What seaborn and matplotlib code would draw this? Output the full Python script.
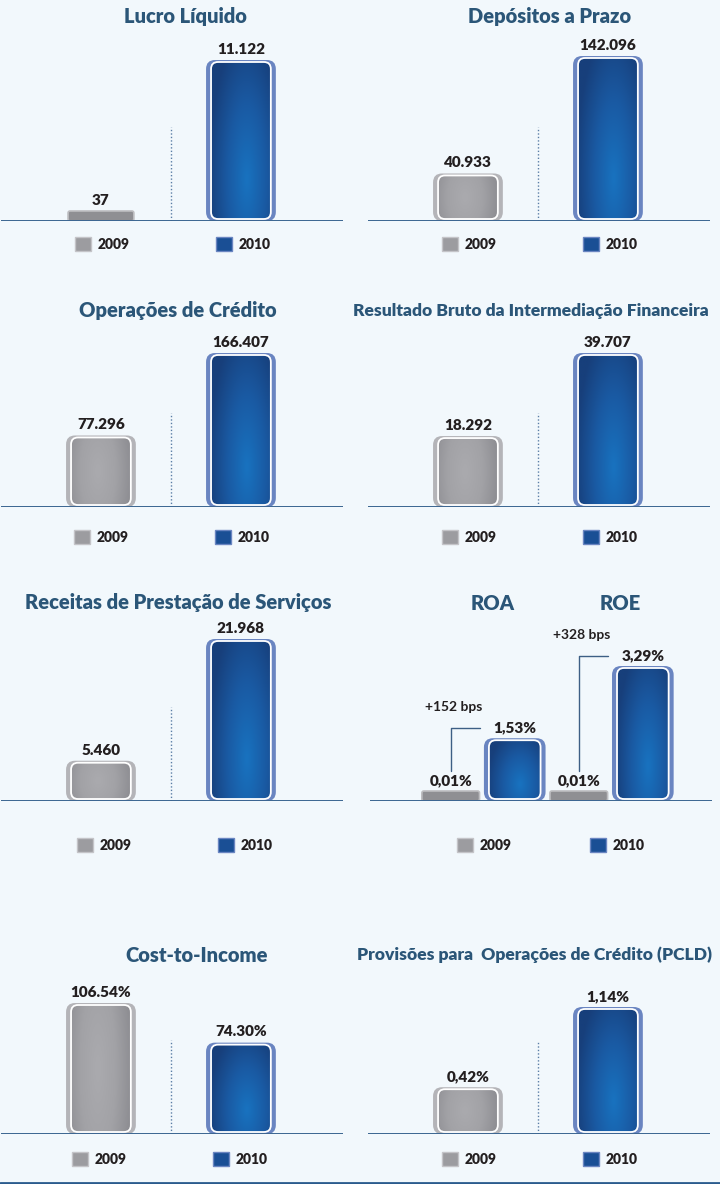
import numpy as np
import pandas as pd
import seaborn as sns
import matplotlib.pyplot as plt
from matplotlib.patches import FancyBboxPatch, Patch
from matplotlib.colors import LinearSegmentedColormap
from matplotlib.lines import Line2D
import matplotlib.transforms as mtransforms

# data (R$ milhões / %)
years = ["2009", "2010"]
lucro_liquido = [37, 11122]
depositos_prazo = [40933, 142096]
operacoes_credito = [77296, 166407]
resultado_bruto = [18292, 39707]
receitas_servicos = [5460, 21968]
roa = [0.01, 1.53]
roe = [0.01, 3.29]
cost_to_income = [106.54, 74.30]
pcld = [0.42, 1.14]
metrics = ["ROA", "ROE"]

W, H = 720, 1184
BG = "#f2f8fc"
TITLE_C = "#2b5678"
TEXT_C = "#231f20"
GRAY = "#9c9ca0"
BLUE = "#1a4f95"
LINE_C = "#3b6591"

sns.set_theme(style="white")
plt.rcParams["font.family"] = ["Lato", "DejaVu Sans"]

fig = plt.figure(figsize=(W / 100, H / 100), dpi=100, facecolor=BG)


def fx(px):
    return px / W


def fy(py):
    return 1 - py / H


def fmt_mil(v):
    return f"{v:,.0f}".replace(",", ".")


def fmt_br(v):
    return f"{v:.2f}%".replace(".", ",")


def fmt_dot(v):
    return f"{v:.2f}%"


gx, gy = np.meshgrid(np.linspace(0, 1, 40), np.linspace(0, 1, 80))
grad_blue = np.clip(np.sqrt(((gx - 0.6) / 0.65) ** 2 + ((gy - 0.25) / 0.95) ** 2), 0, 1)
grad_gray = np.clip(np.sqrt(((gx - 0.45) / 0.7) ** 2 + ((gy - 0.5) / 1.6) ** 2), 0, 1)
cmap_blue = LinearSegmentedColormap.from_list("b", ["#1872bf", "#1a5aa3", "#173f7b"])
cmap_gray = LinearSegmentedColormap.from_list("g", ["#aaaaae", "#a2a2a6", "#8c8c91"])

AX_H = 220


def round_bars(ax, ax_w, min_px=10):
    x0, x1 = ax.get_xlim()
    y0, y1 = ax.get_ylim()
    sx = (x1 - x0) / ax_w
    sy = (y1 - y0) / AX_H
    tops = []
    for bar in list(ax.patches):
        r, g, b, _ = bar.get_facecolor()
        is_blue = b > r + 0.2
        x, w = bar.get_x(), bar.get_width()
        h = max(bar.get_height(), min_px * sy)
        hpx = h / sy
        bar.set_visible(False)
        edge = "#6a85c1" if is_blue else "#b4b4b8"
        if hpx < 20:
            # thin sliver: flat filled bar
            ax.add_patch(FancyBboxPatch((x, 0), w, h,
                                        boxstyle=f"round,pad=0,rounding_size={2 * sx}",
                                        mutation_aspect=sy / sx, fc="#8f8f93", ec="#bdbdc0",
                                        lw=1.2, zorder=3))
            tops.append((x + w / 2, h))
            continue
        outer = FancyBboxPatch((x - 2 * sx, 0), w + 4 * sx, h,
                               boxstyle=f"round,pad=0,rounding_size={9 * sx}",
                               mutation_aspect=sy / sx, fc=edge, ec="none", zorder=2)
        ax.add_patch(outer)
        inner = FancyBboxPatch((x + 3 * sx, 2 * sy), w - 6 * sx, h - 4 * sy,
                               boxstyle=f"round,pad=0,rounding_size={7 * sx}",
                               mutation_aspect=sy / sx, fc="none", ec="white", lw=1.3, zorder=4)
        ax.add_patch(inner)
        img = ax.imshow(grad_blue if is_blue else grad_gray,
                        cmap=cmap_blue if is_blue else cmap_gray,
                        extent=[x + 3 * sx, x + w - 3 * sx, 2 * sy, h - 2 * sy],
                        aspect="auto", origin="lower", zorder=3, interpolation="bilinear")
        img.set_clip_path(inner)
        tops.append((x + w / 2, h))
    ax.set_xlim(x0, x1)
    ax.set_ylim(y0, y1)
    tops.sort()
    return tops


def add_legend(cx, ly, spacing=6.2):
    handles = [Patch(facecolor=GRAY, edgecolor="#c4c4c8", lw=1),
               Patch(facecolor=BLUE, edgecolor="#6a85c1", lw=1)]
    fig.legend(handles, years, loc="center", bbox_to_anchor=(fx(cx), fy(ly)),
               ncol=2, frameon=False, prop={"weight": "heavy", "size": 10},
               handlelength=1.15, handleheight=1.15, handletextpad=0.5,
               columnspacing=spacing, labelcolor=TEXT_C)


def value_label(ax, text, cx, top):
    ax.annotate(text, (cx, top), xytext=(0, 3), textcoords="offset points",
                ha="center", va="bottom", fontsize=11, fontweight="heavy",
                color=TEXT_C, annotation_clip=False)


def two_bar_panel(title, values, fmt, left, base, bar_px, title_x, title_y,
                  legend_x, legend_y, title_ha="center", sep_px=94, title_size=14.5):
    ax_w = 342
    ax = fig.add_axes([fx(left), fy(base), ax_w / W, AX_H / H])
    ax.set_facecolor("none")
    sns.barplot(x=years, y=values, hue=years, palette=[GRAY, BLUE], width=0.47,
                saturation=1, legend=False, ax=ax)
    ax.set_xlim(-0.714, 1.729)
    ax.set_ylim(0, max(values) * AX_H / bar_px)
    ax.axis("off")
    tops = round_bars(ax, ax_w)
    for (cx, top), v in zip(tops, values):
        value_label(ax, fmt(v), cx, top)
    ax.axvline(0.5, 0, sep_px / AX_H, color="#5b7ea6", lw=1, ls=(0, (1, 1.5)))
    ax.axhline(0, color=LINE_C, lw=1.4, zorder=5)
    fig.text(fx(title_x), fy(title_y), title, ha=title_ha, va="center",
             fontsize=title_size, fontweight="heavy", color=TITLE_C)
    add_legend(legend_x, legend_y)


rows_base = [221, 507, 801, 1134]
rows_title = [17, 311, 603, 955]
rows_legend = [244, 537, 845, 1159]

two_bar_panel("Lucro Líquido", lucro_liquido, fmt_mil, 1, rows_base[0], 161,
              185, rows_title[0], 173, rows_legend[0])
two_bar_panel("Depósitos a Prazo", depositos_prazo, fmt_mil, 368, rows_base[0], 165,
              550, rows_title[0], 540, rows_legend[0])
two_bar_panel("Operações de Crédito", operacoes_credito, fmt_mil, 1, rows_base[1], 154,
              178, rows_title[1], 172, rows_legend[1])
two_bar_panel("Resultado Bruto da Intermediação Financeira", resultado_bruto, fmt_mil, 368,
              rows_base[1], 154, 353, rows_title[1], 540, rows_legend[1], title_ha="left",
              title_size=12.6)
two_bar_panel("Receitas de Prestação de Serviços", receitas_servicos, fmt_mil, 1, rows_base[2],
              162, 178, rows_title[2], 175, rows_legend[2])
two_bar_panel("Cost-to-Income", cost_to_income, fmt_dot, 1, rows_base[3], 131,
              197, rows_title[3], 170, rows_legend[3])
two_bar_panel("Provisões para  Operações de Crédito (PCLD)", pcld, fmt_br, 368, rows_base[3],
              127, 357, rows_title[3], 540, rows_legend[3], title_ha="left", sep_px=92,
              title_size=12.6)

# ROA / ROE panel
ratios = pd.DataFrame({
    "metric": [m for m in metrics for _ in years],
    "year": years * len(metrics),
    "value": roa + roe,
})
ratios["label"] = ratios["metric"] + " " + ratios["year"]
ax_w = 342
ax = fig.add_axes([fx(370), fy(rows_base[2]), ax_w / W, AX_H / H])
ax.set_facecolor("none")
sns.barplot(data=ratios, x="label", y="value", hue="year", palette=[GRAY, BLUE],
            width=0.9, dodge=False, saturation=1, legend=False, ax=ax)
ax.set_xlim(-1.26, 4.08)
ymax = ratios["value"].max() * AX_H / 135
ax.set_ylim(0, ymax)
ax.axis("off")
sy = ymax / AX_H
tops = round_bars(ax, ax_w)
for (cx, top), v in zip(tops, ratios["value"]):
    value_label(ax, fmt_br(v), cx, top)
tr = mtransforms.blended_transform_factory(ax.transData, fig.transFigure)
for i, m in enumerate(metrics):
    sub = ratios[ratios["metric"] == m]["value"].to_numpy()
    gxp = tops[2 * i][0]
    ytop = sub[1] + 10 * sy
    ax.plot([gxp, gxp, gxp + 0.46], [30 * sy, ytop, ytop], color="#3d5f85", lw=1,
            clip_on=False)
    ax.annotate(f"+{round((sub[1] - sub[0]) * 100)} bps", (gxp + 0.05, ytop),
                xytext=(0, 11), textcoords="offset points", ha="center", va="bottom",
                fontsize=10, fontweight="bold", color=TEXT_C, annotation_clip=False)
    ax.text(2 * i + 0.65, fy(rows_title[2]), m, transform=tr, ha="center", va="center",
            fontsize=14.5, fontweight="heavy", color=TITLE_C)
ax.axhline(0, color=LINE_C, lw=1.4, zorder=5)
add_legend(551, rows_legend[2], spacing=5.6)

fig.add_artist(Line2D([0, 1], [fy(1183), fy(1183)], color="#2b5b8d", lw=2))

fig.savefig("out.png", dpi=100, facecolor=BG)
